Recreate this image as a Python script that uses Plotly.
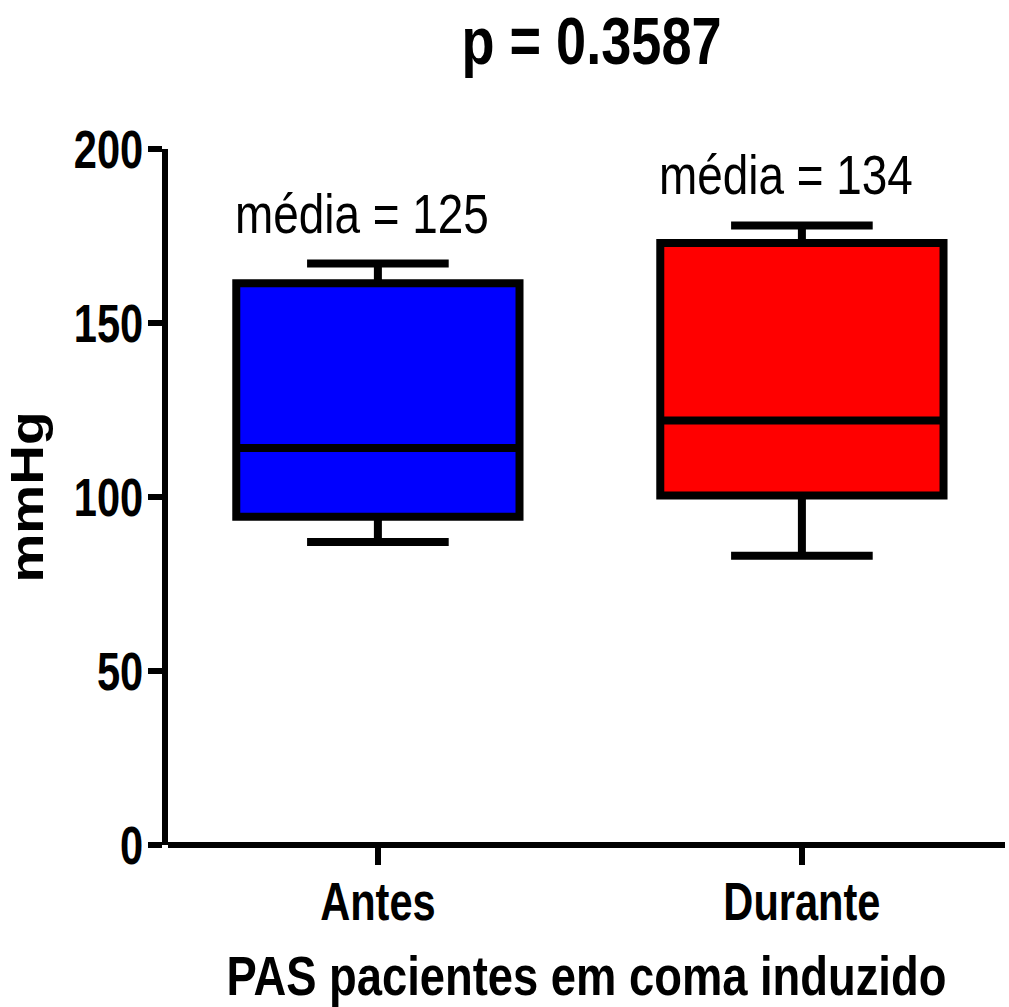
import plotly.graph_objects as go

groups = ["Antes", "Durante"]
q1 = [94.3, 100.4]
median = [114.1, 122.0]
q3 = [161.4, 173.0]
lowerfence = [87.1, 83.1]
upperfence = [167.1, 178.0]
means = [125, 134]
colors = ["#0000FF", "#FF0000"]
y_ticks = [0, 50, 100, 150, 200]

FONT = "Liberation Sans, Arial, sans-serif"

fig = go.Figure()
for i, g in enumerate(groups):
    fig.add_trace(go.Box(
        x=[i], q1=[q1[i]], median=[median[i]], q3=[q3[i]],
        lowerfence=[lowerfence[i]], upperfence=[upperfence[i]],
        name=g, fillcolor=colors[i], line=dict(color="black", width=8),
        whiskerwidth=0.5, width=0.668, boxpoints=False, hoverinfo="skip",
    ))

ann_y = [181.4, 192.6]
for i, m in enumerate(means):
    fig.add_annotation(
        x=i, y=ann_y[i], xref="x", yref="y", text=f"média = {m}",
        showarrow=False, xshift=-16, yanchor="middle",
        font=dict(family=FONT, size=56, color="black"),
    )

fig.update_layout(
    width=1009, height=1007,
    margin=dict(l=168, r=4, t=149, b=162),
    paper_bgcolor="white", plot_bgcolor="white",
    showlegend=False,
    title=dict(text="p = 0.3587", x=0.506, xref="paper", xanchor="center",
               y=1 - 41 / 1007, yref="container", yanchor="middle",
               font=dict(family=FONT, size=66, color="black", weight="bold")),
    xaxis=dict(
        range=[-0.495, 1.479], tickvals=[0, 1], ticktext=groups,
        showline=False,
        ticks="outside", ticklen=19, tickwidth=6, tickcolor="black",
        showgrid=False, zeroline=False, automargin=False,
        ticklabelstandoff=-10,
        tickfont=dict(family=FONT, size=54, color="black", weight="bold"),
        title=dict(text="PAS pacientes em coma induzido", standoff=27,
                   font=dict(family=FONT, size=56, color="black", weight="bold")),
    ),
    yaxis=dict(
        range=[0, 200], tickvals=y_ticks,
        showline=True, linewidth=6, linecolor="black",
        ticks="outside", ticklen=14, tickwidth=6, tickcolor="black",
        showgrid=False, automargin=False,
        zeroline=True, zerolinecolor="black", zerolinewidth=6,
        ticklabelstandoff=-6,
        tickfont=dict(family=FONT, size=54, color="black", weight="bold"),
        title=dict(text="mmHg", standoff=20,
                   font=dict(family=FONT, size=47, color="black", weight="bold")),
    ),
)

# Emulate the narrow (condensed) lettering of the original by scaling text horizontally
post_js = """
var gd = document.getElementById('{plot_id}');
var rules = [
  ['.xtick text', 0.77], ['.ytick text', 0.77],
  ['.gtitle', 0.82], ['.g-xtitle text', 0.81], ['.g-ytitle text', 1.17],
  ['.annotation-text', 0.82]
];
rules.forEach(function(r){
  gd.querySelectorAll(r[0]).forEach(function(t){
    var b = t.getBBox();
    var a = t.getAttribute('text-anchor') || 'start';
    var cx = a === 'middle' ? b.x + b.width / 2 : (a === 'end' ? b.x + b.width : b.x);
    var tr = t.getAttribute('transform') || '';
    t.setAttribute('transform', tr + ' translate(' + cx + ',0) scale(' + r[1] + ',1) translate(' + (-cx) + ',0)');
  });
});
"""

fig.write_html("out.html", post_script=post_js)
